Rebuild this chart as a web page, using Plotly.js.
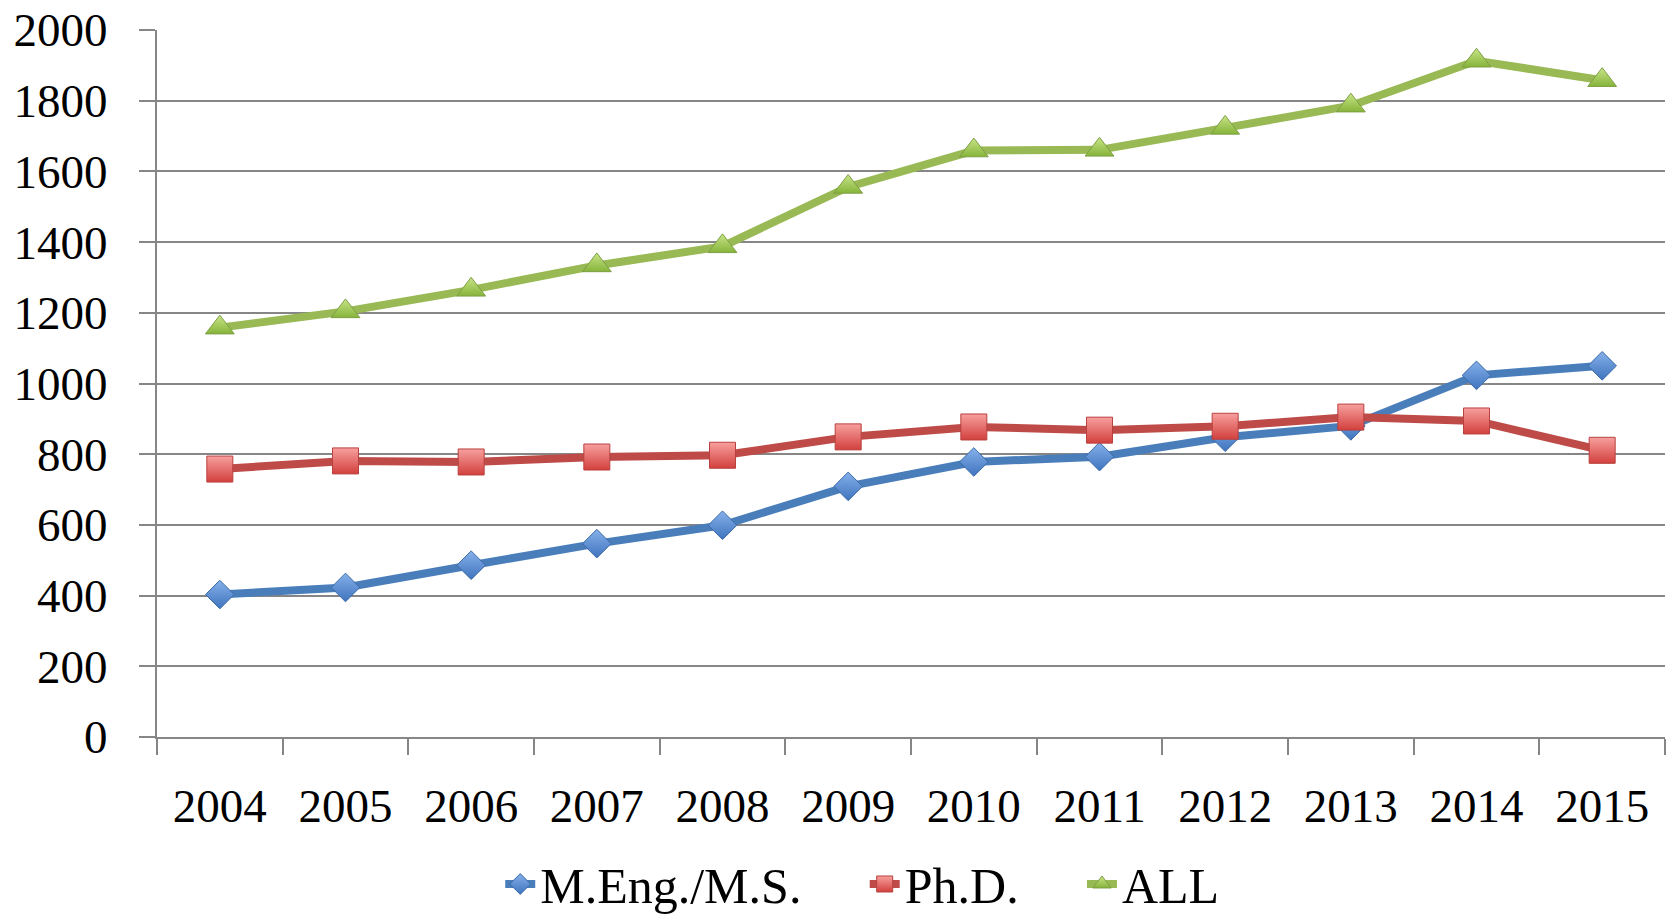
<!DOCTYPE html>
<html>
<head>
<meta charset="utf-8">
<script src="https://cdn.plot.ly/plotly-3.0.1.min.js"></script>
<style>
html,body{margin:0;padding:0;background:#fff;}
#chart{width:1673px;height:917px;}
</style>
</head>
<body>
<div id="chart"></div>
<script>
var years = ["2004","2005","2006","2007","2008","2009","2010","2011","2012","2013","2014","2015"];
var mengMS = [403, 423, 486, 547, 599, 709, 778, 793, 848, 880, 1023, 1050];
var phd    = [758, 781, 778, 792, 797, 849, 877, 868, 879, 905, 894, 811];
var all    = [1158, 1204, 1265, 1334, 1388, 1556, 1659, 1661, 1723, 1786, 1913, 1858];
var seriesNames = ["M.Eng./M.S.", "Ph.D.", "ALL"];

var FONT = "Liberation Serif, Times New Roman, serif";
var PAD = "\u2003\u2006";

var traces = [
  {
    x: years, y: mengMS, name: seriesNames[0] + PAD, type: "scatter", mode: "lines+markers",
    line: {color: "#4A7EBB", width: 8},
    marker: {symbol: "diamond", size: 22, color: "#86B0EA",
             gradient: {type: "vertical", color: "#3F74BE"},
             line: {color: "#3A6AA8", width: 1}}
  },
  {
    x: years, y: phd, name: seriesNames[1] + PAD, type: "scatter", mode: "lines+markers",
    line: {color: "#BE4B48", width: 8},
    marker: {symbol: "square", size: 26, color: "#F7A09E",
             gradient: {type: "vertical", color: "#D2403D"},
             line: {color: "#B8413F", width: 1}}
  },
  {
    x: years, y: all, name: seriesNames[2], type: "scatter", mode: "lines+markers",
    line: {color: "#98B954", width: 8},
    marker: {symbol: "triangle-up", size: 25, color: "#C8E488",
             gradient: {type: "vertical", color: "#86B43A"},
             line: {color: "#7E9F45", width: 1}}
  }
];

var layout = {
  width: 1673, height: 917,
  paper_bgcolor: "#ffffff", plot_bgcolor: "#ffffff",
  margin: {l: 157, r: 8, t: 30, b: 180, autoexpand: false},
  font: {family: FONT, size: 47, color: "#000000"},
  showlegend: true,
  legend: {
    orientation: "h", xref: "container", yref: "container",
    x: 0.299, xanchor: "left", y: 0.036, yanchor: "middle",
    font: {family: FONT, size: 50, color: "#000000"},
    itemwidth: 30, tracegroupgap: 0, bgcolor: "rgba(0,0,0,0)"
  },
  xaxis: {
    type: "category", range: [-0.5, 11.5], automargin: false,
    showgrid: false, zeroline: false,
    showline: true, linecolor: "#868686", linewidth: 2,
    ticks: "outside", tickson: "boundaries", ticklen: 16, tickwidth: 2, tickcolor: "#868686",
    ticklabelstandoff: 27,
    tickfont: {family: FONT, size: 47, color: "#000000"},
    fixedrange: true
  },
  yaxis: {
    range: [0, 2000], dtick: 200, tick0: 0, automargin: false,
    showgrid: true, gridcolor: "#868686", gridwidth: 2,
    zeroline: false,
    showline: true, linecolor: "#868686", linewidth: 2,
    ticks: "outside", ticklen: 16, tickwidth: 2, tickcolor: "#868686",
    ticklabelstandoff: 22,
    tickfont: {family: FONT, size: 47, color: "#000000"},
    fixedrange: true
  }
};

Plotly.newPlot("chart", traces, layout, {displayModeBar: false, staticPlot: true});
</script>
</body>
</html>
